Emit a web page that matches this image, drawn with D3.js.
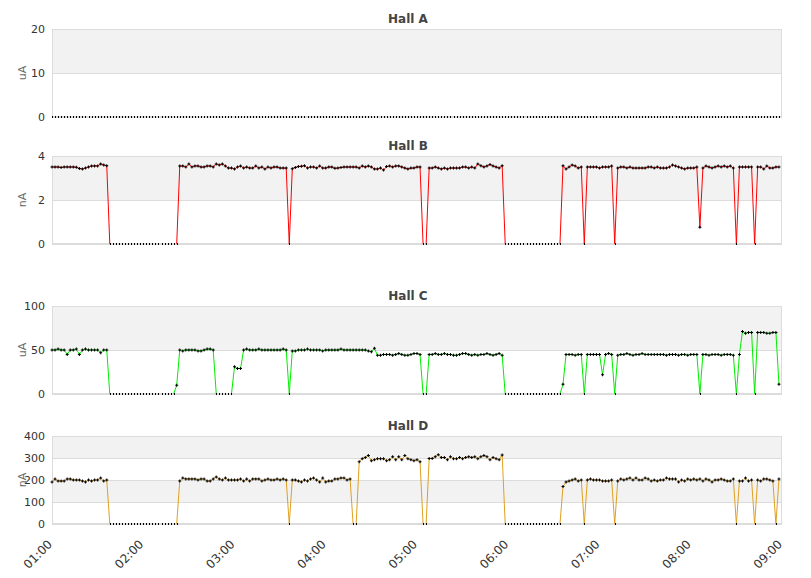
<!DOCTYPE html>
<html>
<head>
<meta charset="utf-8">
<script src="https://cdn.jsdelivr.net/npm/d3@7"></script>
<style>
  body { margin: 0; background: #fff; }
  svg text { font-family: "DejaVu Sans", sans-serif; }
</style>
</head>
<body>
<div id="chart"></div>
<script>
// one sample every 2 minutes, starting 01:00 (240 samples)
const sampleStart = "01:00";
const sampleStepMinutes = 2;

const hallNames = ["Hall A", "Hall B", "Hall C", "Hall D"];
const hallUnits = ["uA", "nA", "uA", "nA"];
const hallTicks = [[0, 10, 20], [0, 2, 4], [0, 50, 100], [0, 100, 200, 300, 400]];
const timeLabels = ["01:00", "02:00", "03:00", "04:00", "05:00", "06:00", "07:00", "08:00", "09:00"];

const hallA = [
  0,0,0,0,0,0,0,0,0,0,0,0,0,0,0,0,0,0,0,0,0,0,0,0,0,0,0,0,0,0,
  0,0,0,0,0,0,0,0,0,0,0,0,0,0,0,0,0,0,0,0,0,0,0,0,0,0,0,0,0,0,
  0,0,0,0,0,0,0,0,0,0,0,0,0,0,0,0,0,0,0,0,0,0,0,0,0,0,0,0,0,0,
  0,0,0,0,0,0,0,0,0,0,0,0,0,0,0,0,0,0,0,0,0,0,0,0,0,0,0,0,0,0,
  0,0,0,0,0,0,0,0,0,0,0,0,0,0,0,0,0,0,0,0,0,0,0,0,0,0,0,0,0,0,
  0,0,0,0,0,0,0,0,0,0,0,0,0,0,0,0,0,0,0,0,0,0,0,0,0,0,0,0,0,0,
  0,0,0,0,0,0,0,0,0,0,0,0,0,0,0,0,0,0,0,0,0,0,0,0,0,0,0,0,0,0,
  0,0,0,0,0,0,0,0,0,0,0,0,0,0,0,0,0,0,0,0,0,0,0,0,0,0,0,0,0,0
];

const hallB = [
  3.5,3.5,3.5,3.48,3.5,3.5,3.5,3.5,3.49,3.43,3.41,3.45,3.5,3.55,3.55,3.55,3.64,3.59,3.56,
  0,0,0,0,0,0,0,0,0,0,0,0,0,0,0,0,0,0,0,0,0,0,0,
  3.55,3.55,3.5,3.64,3.5,3.55,3.55,3.5,3.5,3.55,3.55,3.5,3.64,3.59,3.64,3.55,3.45,3.45,
  3.41,3.5,3.55,3.45,3.5,3.45,3.45,3.55,3.45,3.5,3.41,3.5,3.45,3.5,3.5,3.45,3.45,3.45,
  0,
  3.42,3.48,3.52,3.53,3.56,3.45,3.5,3.5,3.45,3.55,3.45,3.45,3.5,3.5,3.44,3.45,3.48,3.5,3.5,3.5,
  3.5,3.5,3.45,3.55,3.5,3.55,3.5,3.41,3.41,3.45,3.36,3.52,3.55,3.5,3.55,3.55,3.5,3.45,3.41,3.45,
  3.45,3.5,3.5,
  0,0,
  3.45,3.45,3.5,3.45,3.41,3.45,3.41,3.45,3.45,3.45,3.45,3.5,3.5,3.45,3.5,3.45,3.64,3.56,3.5,3.55,
  3.61,3.55,3.5,3.45,3.56,
  0,0,0,0,0,0,0,0,0,0,0,0,0,0,0,0,0,0,0,
  3.56,3.41,3.5,3.59,3.55,3.45,3.5,
  0,
  3.5,3.5,3.5,3.5,3.45,3.5,3.5,3.5,3.55,
  0,
  3.45,3.5,3.5,3.45,3.5,3.45,3.45,3.45,3.45,3.45,3.5,3.5,3.45,3.5,3.45,3.45,3.45,3.5,3.59,3.55,
  3.5,3.45,3.41,3.45,3.45,3.45,3.5,
  0.76,
  3.45,3.55,3.5,3.45,3.5,3.55,3.5,3.55,3.5,3.55,3.45,
  0,
  3.5,3.5,3.5,3.5,3.5,
  0,
  3.5,3.5,3.41,3.55,3.45,3.45,3.5,3.5
];

const hallC = [
  50,50,51,50,50,45,50,50,51,45,50,51,50,50,50,50,47,50,50,
  0,0,0,0,0,0,0,0,0,0,0,0,0,0,0,0,0,0,0,0,0,0,
  10,
  50,49,50,50,50,50,49,49,50,51,51,50,
  0,0,0,0,0,0,
  31,29,29,
  50,51,50,50,50,51,50,50,50,50,50,50,50,51,50,
  0,
  49,49,50,50,50,51,50,50,50,50,49,50,50,50,50,50,51,50,50,50,50,50,50,50,50,49,48,52,
  44,44,45,45,45,44,45,46,45,44,44,45,46,46,45,
  0,0,
  45,45,46,45,45,46,45,45,44,44,45,46,46,45,44,45,44,45,45,46,45,44,45,46,44,
  0,0,0,0,0,0,0,0,0,0,0,0,0,0,0,0,0,0,0,
  11,
  45,45,45,44,45,45,
  0,
  45,45,45,45,45,22,45,46,45,
  0,
  44,45,45,46,45,44,45,45,46,45,45,45,45,45,45,45,44,45,45,45,44,45,45,44,45,45,45,
  0,
  45,45,44,45,45,45,44,45,45,45,44,
  0,
  45,71,69,70,70,
  0,
  70,70,70,69,69,70,70,
  11
];

const hallD = [
  191,205,195,195,195,205,205,200,200,200,195,191,200,195,200,200,209,195,200,
  0,0,0,0,0,0,0,0,0,0,0,0,0,0,0,0,0,0,0,0,0,0,0,
  195,209,205,205,205,205,200,205,205,195,195,205,214,205,200,209,200,200,
  200,200,205,195,205,195,205,205,205,195,200,205,200,200,205,200,205,200,
  0,
  200,200,195,191,200,195,205,209,200,191,209,191,195,195,205,205,209,209,200,205,
  0,0,
  283,297,302,311,288,292,297,297,297,288,292,306,292,306,292,311,297,292,288,292,283,
  0,0,
  298,298,306,315,302,302,292,306,297,297,302,297,302,306,302,306,297,306,311,306,
  292,302,297,292,314,
  0,0,0,0,0,0,0,0,0,0,0,0,0,0,0,0,0,0,0,
  170,
  191,195,200,205,195,200,
  0,
  200,205,200,200,200,195,195,195,200,
  0,
  195,205,200,205,209,200,209,200,200,209,205,195,200,195,200,200,209,205,205,205,
  191,200,195,205,200,205,200,205,195,205,200,191,200,200,205,200,195,195,205,
  0,
  195,195,209,195,200,
  0,
  200,195,205,205,200,195,
  0,
  205
];

const hallSeries = [hallA, hallB, hallC, hallD];
const hallColors = ["#4572a7", "#ff0000", "#00ee00", "#e0a020"];

const width = 811, height = 578;
const plotLeft = 52, plotRight = 782;
const panelTops = [29, 156, 306, 436];
const panelHeight = 88;

const toMinutes = s => { const [h, m] = s.split(":").map(Number); return h * 60 + m; };
const startMin = toMinutes(sampleStart);

const svg = d3.select("#chart").append("svg")
    .attr("width", width)
    .attr("height", height);

const x = d3.scaleLinear()
    .domain([toMinutes(timeLabels[0]), toMinutes(timeLabels[timeLabels.length - 1])])
    .range([plotLeft, plotRight]);

const marker = d3.symbol().type(d3.symbolCross).size(5);

hallSeries.forEach((values, k) => {
    const top = panelTops[k];
    const bottom = top + panelHeight;
    const ticks = hallTicks[k];

    const y = d3.scaleLinear()
        .domain([0, d3.max(ticks)])
        .range([bottom, top]);

    const g = svg.append("g");

    // alternating bands between grid lines
    g.selectAll(".band")
        .data(d3.pairs(ticks))
        .join("rect")
        .attr("class", "band")
        .attr("x", plotLeft)
        .attr("width", plotRight - plotLeft)
        .attr("y", d => y(d[1]))
        .attr("height", d => y(d[0]) - y(d[1]))
        .attr("fill", (d, i) => i % 2 ? "#f2f2f2" : "#ffffff");

    const yAxis = g.append("g")
        .attr("transform", `translate(${plotLeft},0)`)
        .call(d3.axisLeft(y)
            .tickValues(ticks)
            .tickFormat(d3.format("d"))
            .tickSize(-(plotRight - plotLeft))
            .tickPadding(7));
    yAxis.select(".domain").remove();
    yAxis.selectAll("line").attr("stroke", "#dcdcdc");
    yAxis.selectAll("text")
        .attr("fill", "#333")
        .style("font-size", "11px")
        .style("font-family", "DejaVu Sans, sans-serif");

    g.append("rect")
        .attr("x", plotLeft + 0.5)
        .attr("y", top + 0.5)
        .attr("width", plotRight - plotLeft - 1)
        .attr("height", panelHeight - 1)
        .attr("fill", "none")
        .attr("stroke", "#dcdcdc");

    // title
    svg.append("text")
        .attr("x", 408)
        .attr("y", top - 6)
        .attr("text-anchor", "middle")
        .attr("fill", "#444")
        .style("font-size", "12px")
        .style("font-weight", "bold")
        .text(hallNames[k]);

    // unit label
    svg.append("text")
        .attr("transform", `translate(26,${(top + bottom) / 2}) rotate(-90)`)
        .attr("text-anchor", "middle")
        .attr("fill", "#666")
        .style("font-size", "11px")
        .text(hallUnits[k]);

    const pts = values.map((v, i) => ({ t: startMin + i * sampleStepMinutes, v: v }));

    // segments lying flat on the zero line are not stroked
    const segments = d3.pairs(pts).filter(p => !(p[0].v === 0 && p[1].v === 0));
    const line = d3.line().x(d => x(d.t)).y(d => y(d.v));

    g.selectAll(".seg")
        .data(segments)
        .join("path")
        .attr("class", "seg")
        .attr("fill", "none")
        .attr("stroke", hallColors[k])
        .attr("stroke-width", 1)
        .attr("d", line);

    // markers: crosses, reduced to a short tick where they sit on the zero line
    g.selectAll(".pt")
        .data(pts)
        .join("path")
        .attr("class", "pt")
        .attr("transform", d => d.v === 0
            ? `translate(${Math.round(x(d.t))},${y(d.v)})`
            : `translate(${x(d.t)},${y(d.v)})`)
        .attr("d", d => d.v === 0 ? "M-0.5,-1h1v2h-1z" : marker())
        .attr("shape-rendering", d => d.v === 0 ? "crispEdges" : null)
        .attr("fill", "#000");
});

// time labels under the last panel
const axisY = panelTops[3] + panelHeight;
svg.selectAll(".xlabel")
    .data(timeLabels)
    .join("text")
    .attr("class", "xlabel")
    .attr("transform", d => `translate(${x(toMinutes(d)) - 2},${axisY + 18}) rotate(-45)`)
    .attr("text-anchor", "end")
    .attr("dy", "0.35em")
    .attr("fill", "#333")
    .style("font-size", "12px")
    .text(d => d);
</script>
</body>
</html>
